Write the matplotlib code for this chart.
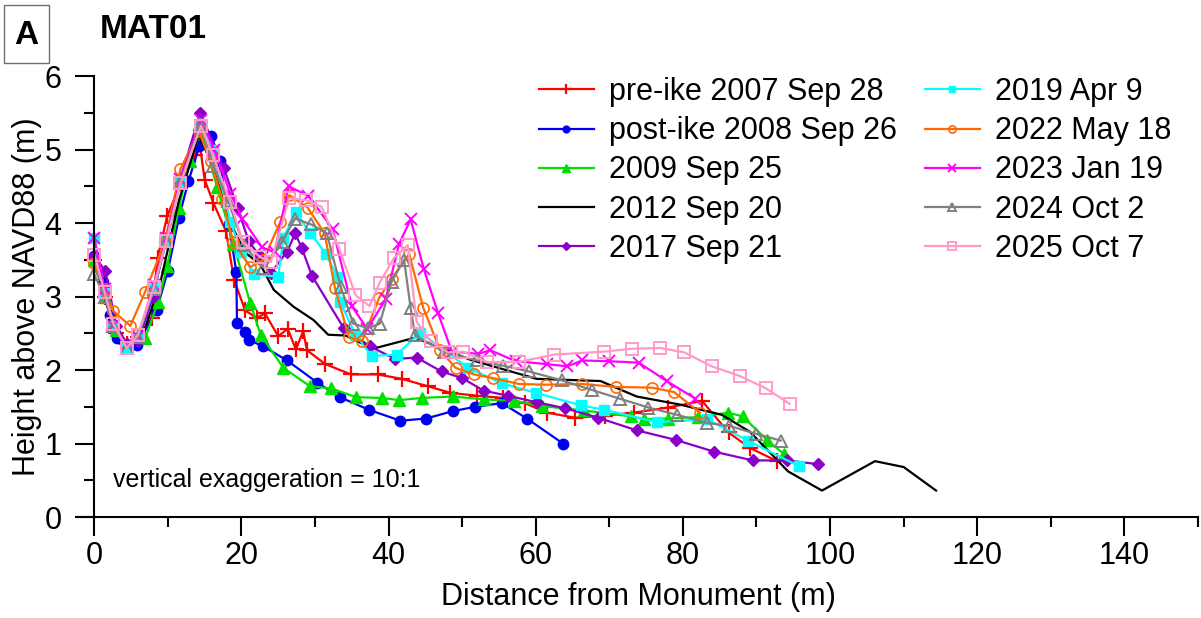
#************************************************************************************
#
# PROFIL DE PLAGE MAT01 - HAUTEUR AU-DESSUS DE NAVD88
#
#************************************************************************************

import matplotlib
matplotlib.use('Agg')
import matplotlib.pyplot as plt
from matplotlib.patches import Rectangle
from matplotlib.ticker import MultipleLocator

plt.rcParams['font.family'] = ['Liberation Sans', 'DejaVu Sans']

#Données (distance en m, hauteur en m)
libelles = ['pre-ike 2007 Sep 28', 'post-ike 2008 Sep 26', '2009 Sep 25', '2012 Sep 20',
            '2017 Sep 21', '2019 Apr 9', '2022 May 18', '2023 Jan 19', '2024 Oct 2', '2025 Oct 7']

x_2007 = [0, 1.5, 3.0, 4.5, 6.0, 7.8, 8.6, 9.9, 11.8, 13.7, 14.3, 15.0, 16.2, 17.9, 19.0, 20.5, 22.1,
          23.2, 25.0, 26.3, 27.4, 28.4, 28.9, 31.4, 34.9, 38.5, 41.8, 45.3, 48.4, 52.0, 55.6, 58.5,
          61.5, 65.4, 69.4, 73.3, 78.0, 82.6, 86.2, 89.1, 92.8]
y_2007 = [3.5, 3.0, 2.5, 2.35, 2.45, 2.71, 3.52, 4.09, 4.55, 4.93, 5.1, 4.59, 4.27, 3.89, 3.23, 2.81, 2.71,
          2.77, 2.46, 2.56, 2.28, 2.53, 2.27, 2.08, 1.94, 1.94, 1.88, 1.78, 1.69, 1.65, 1.62, 1.55,
          1.42, 1.35, 1.38, 1.42, 1.49, 1.58, 1.15, 0.94, 0.76]

x_2008 = [0, 1.2, 2.2, 3.1, 4.3, 5.8, 8.5, 10.0, 11.5, 12.8, 14.3, 15.9, 17.1, 18.3, 19.3, 19.4, 20.5,
          21.0, 23.0, 26.2, 30.3, 33.4, 37.3, 41.6, 45.1, 48.7, 51.8, 55.4, 58.8, 63.7]
y_2008 = [3.55, 3.2, 2.75, 2.44, 2.33, 2.34, 2.82, 3.35, 4.07, 4.57, 5.05, 5.19, 4.84, 3.98, 3.34, 2.64, 2.52,
          2.41, 2.32, 2.13, 1.83, 1.63, 1.46, 1.31, 1.34, 1.44, 1.50, 1.55, 1.34, 1.00]

x_2009 = [0, 1.5, 3.0, 4.5, 6.9, 8.7, 9.9, 11.5, 13.0, 14.5, 16.7, 18.9, 21.2, 22.6, 25.7, 29.3, 32.2,
          35.6, 39.1, 41.4, 44.5, 48.7, 53.0, 57.1, 60.8, 66.5, 72.9, 74.7, 78.0, 82.0, 86.1, 88.1, 91.4, 93.7]
y_2009 = [3.5, 3.0, 2.55, 2.35, 2.43, 2.93, 3.41, 4.2, 4.85, 5.25, 4.49, 3.72, 2.91, 2.48, 2.03, 1.78, 1.75,
          1.63, 1.62, 1.59, 1.62, 1.64, 1.60, 1.58, 1.51, 1.45, 1.37, 1.33, 1.34, 1.36, 1.42, 1.37, 1.05, 0.86]

x_2012 = [0, 2.5, 4.5, 6.5, 9.0, 11.5, 14.2, 16.0, 18.5, 20.5, 22.6, 24.4, 27.1, 29.8, 31.8, 34.1, 37.9,
          43.6, 51.1, 60.1, 68.8, 73.7, 79.6, 85.3, 89.1, 94.3, 98.9, 106.1, 110.0, 114.4]
y_2012 = [3.5, 2.6, 2.35, 2.45, 3.2, 4.3, 5.2, 4.8, 4.0, 3.6, 3.43, 3.09, 2.86, 2.68, 2.48, 2.47, 2.29,
          2.44, 2.14, 1.88, 1.85, 1.64, 1.53, 1.39, 1.16, 0.62, 0.36, 0.76, 0.68, 0.36]

x_2017 = [0, 1.5, 3.0, 4.5, 6.0, 8.0, 9.8, 11.7, 14.4, 17.6, 19.5, 21.0, 22.5, 24.0, 26.2, 27.3, 28.2,
          29.6, 33.9, 37.5, 40.9, 43.8, 47.2, 50.0, 52.9, 56.2, 60.2, 64.0, 68.5, 73.7, 79.0, 84.2,
          89.5, 94.1, 98.3]
y_2017 = [3.55, 3.35, 2.6, 2.35, 2.4, 3.0, 3.8, 4.6, 5.5, 4.75, 4.2, 3.75, 3.55, 3.32, 3.61, 3.86, 3.66,
          3.28, 2.57, 2.32, 2.15, 2.17, 1.98, 1.89, 1.72, 1.65, 1.56, 1.48, 1.35, 1.18, 1.05, 0.89,
          0.77, 0.77, 0.72]

x_2019 = [0, 1.4, 2.6, 4.4, 5.9, 8.1, 9.8, 11.7, 14.5, 16.1, 18.5, 20.0, 21.7, 25.0, 25.7, 27.4, 29.3,
          31.5, 33.0, 33.4, 35.5, 37.7, 41.1, 44.3, 50.8, 55.4, 60.0, 66.1, 69.3, 76.5, 83.3, 88.8, 95.8]
y_2019 = [3.8, 3.05, 2.6, 2.3, 2.45, 3.1, 3.75, 4.55, 5.35, 5.0, 4.02, 3.6, 3.30, 3.27, 3.80, 4.15, 3.87,
          3.58, 3.27, 2.93, 2.48, 2.19, 2.21, 2.51, 2.03, 1.82, 1.69, 1.52, 1.46, 1.29, 1.33, 1.04, 0.69]

x_2022 = [0, 1.4, 2.6, 4.9, 6.9, 9.6, 11.7, 14.2, 15.8, 17.4, 18.9, 21.2, 23.0, 25.3, 26.5, 29.0, 31.3,
          32.7, 34.6, 36.4, 38.7, 40.4, 42.8, 44.7, 47.0, 49.1, 51.6, 54.2, 57.7, 61.4, 66.3, 70.9,
          75.8, 78.8, 82.3]
y_2022 = [3.46, 3.1, 2.80, 2.60, 3.06, 3.74, 4.73, 5.25, 4.84, 4.33, 3.74, 3.40, 3.5, 4.02, 4.38, 4.21, 3.86,
          3.12, 2.45, 2.39, 2.98, 3.24, 3.58, 2.85, 2.27, 2.03, 1.94, 1.89, 1.81, 1.80, 1.81, 1.77,
          1.76, 1.70, 1.42]

x_2023 = [0, 1.4, 2.6, 4.4, 5.9, 8.1, 9.8, 11.7, 14.5, 16.3, 18.5, 20.1, 22.8, 24.5, 26.4, 29.1, 32.4,
          35.0, 37.1, 39.6, 41.4, 43.0, 44.8, 46.7, 48.6, 52.2, 53.8, 57.3, 61.5, 64.3, 66.3, 69.9,
          74.0, 77.8, 81.7]
y_2023 = [3.8, 3.1, 2.6, 2.35, 2.45, 3.15, 3.8, 4.6, 5.4, 5.0, 4.4, 4.06, 3.67, 3.6, 4.50, 4.37, 3.92,
          2.87, 2.56, 2.96, 3.71, 4.05, 3.37, 2.78, 2.25, 2.22, 2.27, 2.12, 2.08, 2.05, 2.13, 2.12,
          2.10, 1.85, 1.61]

x_2024 = [0, 1.4, 2.6, 4.4, 5.9, 8.1, 9.8, 11.7, 14.4, 16.2, 18.2, 20.3, 23.0, 25.5, 27.3, 29.5, 31.6,
          33.5, 35.2, 37.2, 38.8, 40.4, 42.1, 43.0, 43.6, 47.5, 52.0, 55.5, 59.1, 63.5, 67.6, 71.4,
          75.3, 79.2, 83.3, 86.3, 90.0, 93.3]
y_2024 = [3.3, 3.0, 2.6, 2.3, 2.45, 3.1, 3.75, 4.55, 5.35, 4.78, 4.30, 3.7, 3.39, 3.74, 4.06, 3.98, 3.86,
          3.13, 2.63, 2.57, 2.63, 3.20, 3.50, 2.84, 2.47, 2.25, 2.13, 2.06, 1.98, 1.86, 1.73, 1.61,
          1.49, 1.39, 1.28, 1.24, 1.13, 1.04]

x_2025 = [0, 1.4, 2.6, 4.4, 5.9, 8.1, 9.8, 11.7, 14.5, 16.1, 18.5, 20.2, 22.5, 24.0, 26.5, 28.8, 30.9,
          33.3, 35.5, 37.4, 38.8, 40.7, 42.6, 43.8, 45.7, 48.1, 50.1, 53.4, 57.7, 62.5, 69.3, 73.1,
          76.9, 80.2, 83.9, 87.7, 91.3, 94.5]
y_2025 = [3.57, 3.06, 2.63, 2.30, 2.47, 3.13, 3.76, 4.54, 5.32, 4.93, 4.28, 3.74, 3.54, 3.47, 4.34, 4.31, 4.22,
          3.65, 3.02, 2.87, 3.19, 3.52, 3.70, 2.66, 2.39, 2.24, 2.25, 2.11, 2.11, 2.21, 2.25, 2.29,
          2.30, 2.24, 2.05, 1.92, 1.75, 1.54]

#Styles de chaque levé
styles = [
    dict(color='#FF0000', marker='+', ms=11, mew=1.6),
    dict(color='#0000F0', marker='o', ms=7.5),
    dict(color='#00E000', marker='^', ms=8),
    dict(color='#000000', marker=None),
    dict(color='#8A00C8', marker='D', ms=6),
    dict(color='#00FFFF', marker='s', ms=7.5),
    dict(color='#FF6A00', marker='o', ms=8, mfc='none', mew=1.2),
    dict(color='#FF00FF', marker='x', ms=8, mew=1.4),
    dict(color='#808080', marker='^', ms=8, mfc='none', mew=1.4),
    dict(color='#FF9AC8', marker='s', ms=8, mfc='none', mew=1.4),
]
series = [(x_2007, y_2007), (x_2008, y_2008), (x_2009, y_2009), (x_2012, y_2012), (x_2017, y_2017),
          (x_2019, y_2019), (x_2022, y_2022), (x_2023, y_2023), (x_2024, y_2024), (x_2025, y_2025)]

fig = plt.figure(figsize=(12.01, 6.18), dpi=100)
ax = fig.add_axes([0.065, 0.1634, 0.9325, 0.7136])

for (xs, ys), libelle, st in zip(series, libelles, styles):
    ax.plot(xs, ys, lw=1.6, label=libelle, **st)

#Axes
ax.set_xlim(-2.2, 150)
ax.set_ylim(0, 6)
ax.spines['top'].set_visible(False)
ax.spines['right'].set_visible(False)
ax.spines['left'].set_position(('data', 0))
ax.spines['left'].set_linewidth(1.5)
ax.spines['bottom'].set_linewidth(1.5)
ax.xaxis.set_major_locator(MultipleLocator(20))
ax.xaxis.set_minor_locator(MultipleLocator(10))
ax.yaxis.set_major_locator(MultipleLocator(1))
ax.yaxis.set_minor_locator(MultipleLocator(0.5))
ax.tick_params(which='major', length=13.5, width=1.5, labelsize=22)
ax.tick_params(which='minor', length=7.5, width=1.5)
ax.tick_params(axis='x', pad=4)
ax.tick_params(axis='y', pad=10)

ax.set_xlabel('Distance from Monument (m)', fontsize=22, labelpad=8)
ax.set_ylabel('Height above NAVD88 (m)', fontsize=22, labelpad=1.5)

ax.text(2.6, 0.5, 'vertical exaggeration = 10:1', fontsize=18, va='center', ha='left')

#Légende sur deux colonnes
ax.legend(loc='upper left', bbox_to_anchor=(0.387, 1.06), ncol=2, frameon=False, fontsize=22,
          handlelength=1.8, handletextpad=0.5, columnspacing=0.9, labelspacing=0.3, markerscale=0.65)

#Titre et lettre du panneau
fig.patches.append(Rectangle((4 / 1201, 1 - 63 / 618), 45 / 1201, 58 / 618, transform=fig.transFigure,
                             fill=False, edgecolor='#707070', lw=1))
fig.text(26.5 / 1201, 1 - 35 / 618, 'A', fontsize=24, fontweight='bold', ha='center', va='center')
fig.text(100 / 1201, 1 - 30 / 618, 'MAT01', fontsize=24, fontweight='bold', ha='left', va='center')

plt.savefig('out.png', dpi=100)
